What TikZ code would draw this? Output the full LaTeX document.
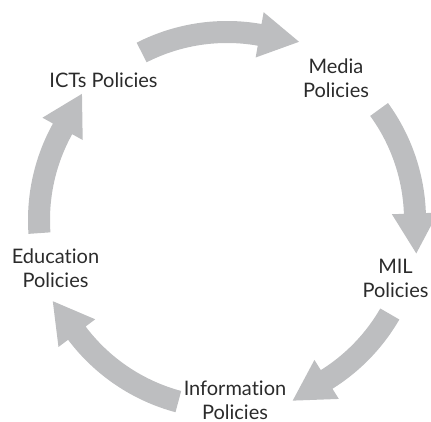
\documentclass[tikz,border=0pt]{standalone}
\usepackage{fontspec}
\setmainfont{Lato}[Ligatures=NoCommon]
\usetikzlibrary{calc}

\definecolor{arrowgray}{HTML}{BDBEC0}
\definecolor{textgray}{HTML}{2B2B2B}

% cycle arrow: #1 tail angle, #2 head base angle
\newcommand{\cyclearrow}[2]{%
\fill[arrowgray] (#1:199) arc[start angle=#1, end angle=#2, radius=199]
  -- (#2:211) -- ($(#2:188)+(#2-90:40)$) -- (#2:165) -- (#2:177)
  arc[start angle=#2, end angle=#1, radius=177] -- cycle;}

\begin{document}
\begin{tikzpicture}
[x=1pt,y=1pt,
every node/.style={align=center,inner sep=1pt,text=textgray,font=\fontsize{20}{24}\selectfont}]

\useasboundingbox (-227,-202) rectangle (204,220);

\cyclearrow{117}{80}
\cyclearrow{36}{2}
\cyclearrow{-30}{-58}
\cyclearrow{-105}{-143}
\cyclearrow{184}{151}

\node (icts) at (-123.5,140) {ICTs Policies};
\node (media) at (109,142) {Media\\Policies};
\node (mil) at (168.5,-58) {MIL\\Policies};
\node (info) at (8,-180) {Information\\Policies};
\node (edu) at (-171.5,-48.5) {Education\\Policies};
\end{tikzpicture}
\end{document}
